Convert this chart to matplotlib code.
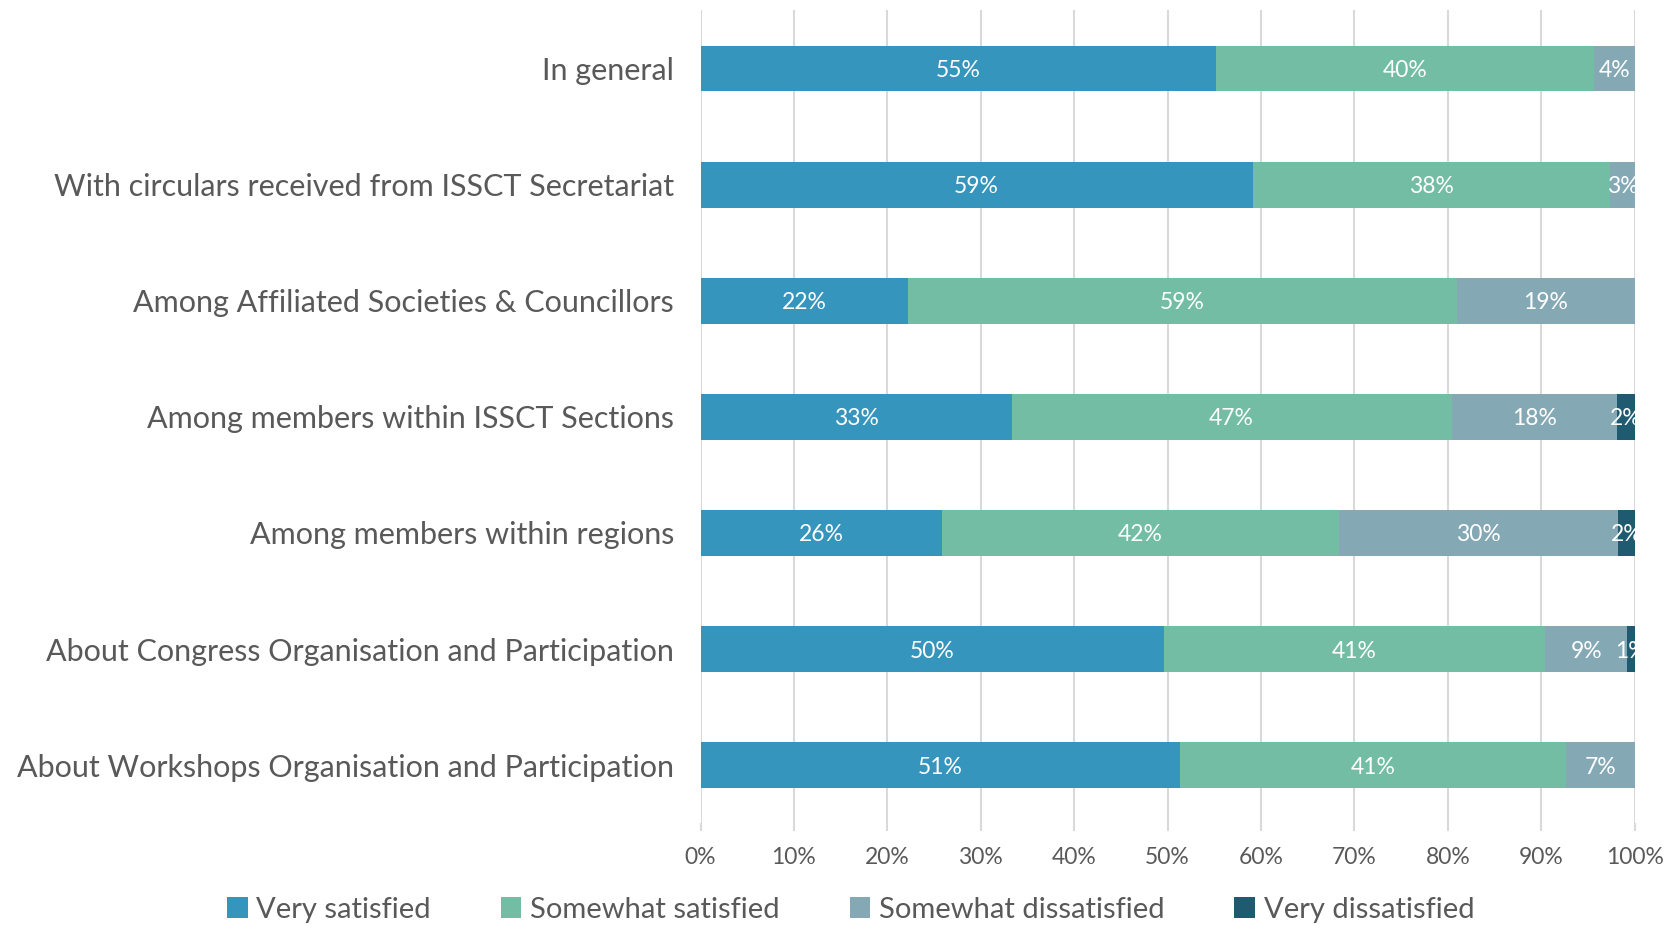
import matplotlib
matplotlib.use("Agg")
import matplotlib.pyplot as plt
import numpy as np

categories = [
    "In general",
    "With circulars received from ISSCT Secretariat",
    "Among Affiliated Societies & Councillors",
    "Among members within ISSCT Sections",
    "Among members within regions",
    "About Congress Organisation and Participation",
    "About Workshops Organisation and Participation",
]
series_names = ["Very satisfied", "Somewhat satisfied", "Somewhat dissatisfied", "Very dissatisfied"]
very_satisfied = [55.2, 59.1, 22.2, 33.3, 25.9, 49.6, 51.3]
somewhat_satisfied = [40.5, 38.3, 58.8, 47.1, 42.4, 40.8, 41.4]
somewhat_dissatisfied = [4.3, 2.6, 19.0, 17.7, 29.9, 8.8, 7.3]
very_dissatisfied = [0.0, 0.0, 0.0, 1.9, 1.8, 0.8, 0.0]
x_ticks = [0, 10, 20, 30, 40, 50, 60, 70, 80, 90, 100]
x_tick_labels = [f"{t}%" for t in x_ticks]

colors = ["#3595bc", "#72bda4", "#84a9b5", "#1f5b70"]
text_color = "#595959"

plt.rcParams['font.family'] = ['Lato', 'DejaVu Sans']

fig = plt.figure(figsize=(16.68, 9.26), dpi=100)
ax = fig.add_axes([0.420, 0.111, 0.560, 0.8777])

series = [very_satisfied, somewhat_satisfied, somewhat_dissatisfied, very_dissatisfied]
y = np.arange(len(categories))
left = np.zeros(len(categories))
for name, vals, c in zip(series_names, series, colors):
    vals = np.array(vals)
    ax.barh(y, vals, left=left, height=0.395, color=c, label=name, zorder=3)
    for yi, (l, v) in enumerate(zip(left, vals)):
        if v > 0:
            ax.text(l + v / 2, yi, f"{round(v)}%", ha="center", va="center_baseline",
                    color="white", fontsize=16.5, zorder=4, clip_on=False)
    left = left + vals

ax.set_xlim(0, 100)
ax.set_ylim(len(categories) - 0.5, -0.5)
ax.set_yticks(y)
ax.set_yticklabels(categories, fontsize=22, color=text_color)
ax.set_xticks(x_ticks)
ax.set_xticklabels(x_tick_labels, fontsize=16.5, color=text_color)
ax.tick_params(axis="y", length=0, pad=19)
ax.tick_params(axis="x", length=6, color="#d9d9d9", width=1.5, pad=11)
for s in ax.spines.values():
    s.set_visible(False)
ax.xaxis.grid(True, color="#d9d9d9", linewidth=1.5, zorder=0)
ax.set_axisbelow(True)

leg = fig.legend(loc="lower center", bbox_to_anchor=(0.51, -0.025), ncol=4, frameon=False,
                 fontsize=21, handlelength=0.7, handleheight=0.7, handletextpad=0.3,
                 columnspacing=2.4)
for t in leg.get_texts():
    t.set_color(text_color)

fig.savefig("out.png", dpi=100)
